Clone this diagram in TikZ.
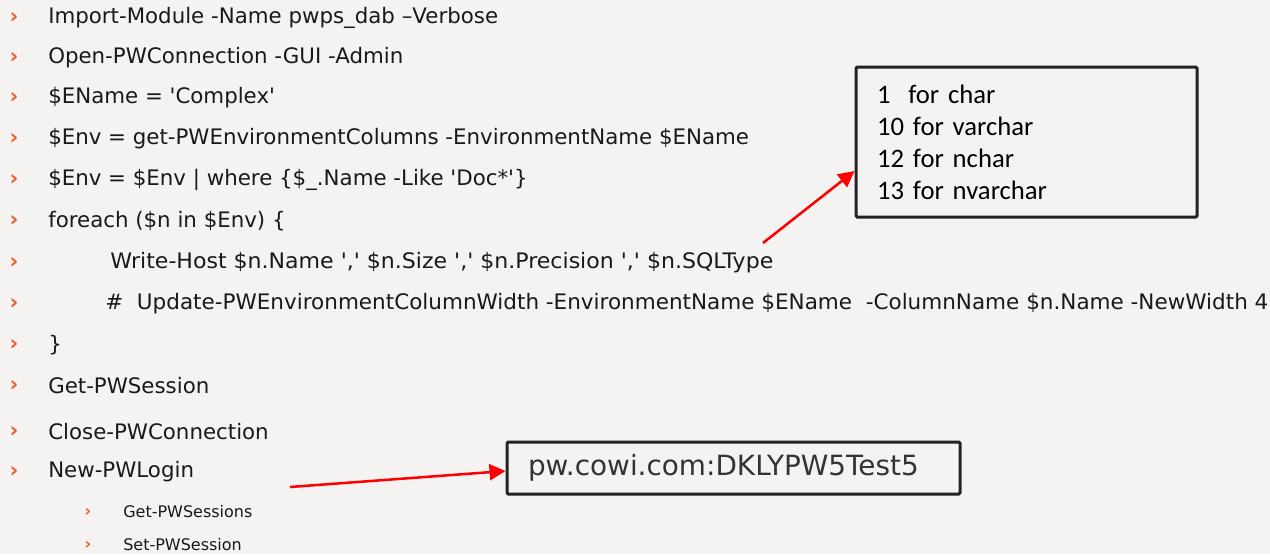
\documentclass[tikz,border=0pt]{standalone}
\usepackage{fontspec}
\usepackage{graphicx}
\usetikzlibrary{arrows.meta}
\newfontfamily\codefont{DejaVu Sans}
\newfontfamily\notefont{Carlito}
\definecolor{slidebg}{HTML}{F4F3F1}
\definecolor{chevroncol}{HTML}{F2592A}
\definecolor{boxline}{HTML}{222222}
\tikzstyle{cmd}=[anchor=west, inner sep=0pt, text=black!90, font=\codefont\fontsize{16}{18}\selectfont]
\tikzstyle{subcmd}=[cmd, font=\codefont\fontsize{12}{14}\selectfont]
\tikzstyle{chevron}=[inner sep=0pt, text=chevroncol, font=\codefont\bfseries\fontsize{16}{18}\selectfont]
\tikzstyle{subchevron}=[chevron, font=\codefont\bfseries\fontsize{12}{14}\selectfont]
\tikzstyle{infobox}=[draw=boxline, line width=2.25pt, rounded corners=1pt, inner xsep=15.75pt, inner ysep=0pt]
\tikzstyle{callout}=[->, color=red, line width=1.9pt]

\begin{document}
\begin{tikzpicture}[x=0.75pt,y=-0.75pt,>={Triangle[length=12pt,width=12pt]}]
    \fill[slidebg] (0,0) rectangle (1270,554);
    % script lines
    \node [cmd] (imp) at (48,18) {Import-Module -Name pwps\_dab –Verbose};
    \node [cmd] (open) at (48,58) {Open-PWConnection -GUI -Admin};
    \node [cmd] (ename) at (48,98) {\$EName = 'Complex'};
    \node [cmd] (envcols) at (48,139) {\$Env = get-PWEnvironmentColumns -EnvironmentName \$EName};
    \node [cmd] (envfilt) at (48,180) {\$Env = \$Env | where \{\$\_.Name -Like 'Doc*'\}};
    \node [cmd] (loopstart) at (48,221) {foreach (\$n in \$Env) \{};
    \node [cmd] (writehost) at (110,263) {\resizebox{497.25pt}{\height}{Write-Host \$n.Name ',' \$n.Size ',' \$n.Precision ',' \$n.SQLType}};
    \node [cmd] (update) at (105,304) {\resizebox{872.25pt}{\height}{\#\ \ Update-PWEnvironmentColumnWidth -EnvironmentName \$EName\ \ -ColumnName \$n.Name -NewWidth 4}};
    \node [cmd] (loopend) at (48,345) {\}};
    \node [cmd] (getsess) at (48,386) {Get-PWSession};
    \node [cmd] (closeconn) at (48,432) {Close-PWConnection};
    \node [cmd] (newlogin) at (48,472) {New-PWLogin};
    \node [subcmd] (getsessions) at (123,512) {Get-PWSessions};
    \node [subcmd] (setsession) at (123,545) {Set-PWSession};
    % bullets
    \node [chevron] (b1) at (14,18) {›};
    \node [chevron] (b2) at (14,58) {›};
    \node [chevron] (b3) at (14,98) {›};
    \node [chevron] (b4) at (14,139) {›};
    \node [chevron] (b5) at (14,180) {›};
    \node [chevron] (b6) at (14,221) {›};
    \node [chevron] (b7) at (14,263) {›};
    \node [chevron] (b8) at (14,304) {›};
    \node [chevron] (b9) at (14,345) {›};
    \node [chevron] (b10) at (14,386) {›};
    \node [chevron] (b11) at (14,432) {›};
    \node [chevron] (b12) at (14,472) {›};
    \node [subchevron] (b13) at (88,512) {›};
    \node [subchevron] (b14) at (88,545) {›};
    % annotation boxes
    \node [infobox, text width=224.25pt, minimum height=112.5pt, align=left,
           font=\notefont\fontsize{20}{24}\selectfont] (types) at (1026.5,142)
          {1\ \ for char\\10 for varchar\\12 for nchar\\13 for nvarchar};
    \node [infobox, text width=308.25pt, minimum height=39pt, align=left, text=black!80,
           font=\codefont\fontsize{20.9}{24}\selectfont] (server) at (733.5,468)
          {pw.cowi.com:DKLYPW5Test5};
    \coordinate (from1) at (763,243);
    \coordinate (from2) at (290,487);
    \draw[callout] (from1) -- ([yshift=-21.75pt]types.west);
    \draw[callout] (from2) -- ([yshift=-2.25pt]server.west);
\end{tikzpicture}
\end{document}
